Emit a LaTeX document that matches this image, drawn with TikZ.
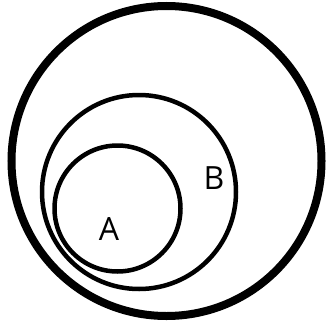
\documentclass[tikz,border=0pt]{standalone}
\usepackage{fontspec}
\setsansfont{Open Sans}
\usetikzlibrary{positioning}
\tikzstyle{setring} = [circle, draw=black, inner sep=0pt, outer sep=0pt]
\tikzstyle{setname} = [font=\sffamily\fontsize{32}{34}\selectfont, inner sep=0pt]

\begin{document}
\begin{tikzpicture}[x=1pt, y=-1pt]

  \useasboundingbox (0,0) rectangle (326,324);

  % Universal set
  \node (univ) [setring, line width=8pt, minimum size=310pt] at (166.5,161) {};

  % B and its subset A
  \node (setB) [setring, line width=4.5pt, minimum size=194pt] at (139,192) {};
  \node (setA) [setring, line width=4.5pt, minimum size=126pt] at (117.5,208.5) {};

  % Labels
  \node (labA) [setname] at (109,229) {A};
  \node (labB) [setname] at (214,178) {B};

\end{tikzpicture}
\end{document}
